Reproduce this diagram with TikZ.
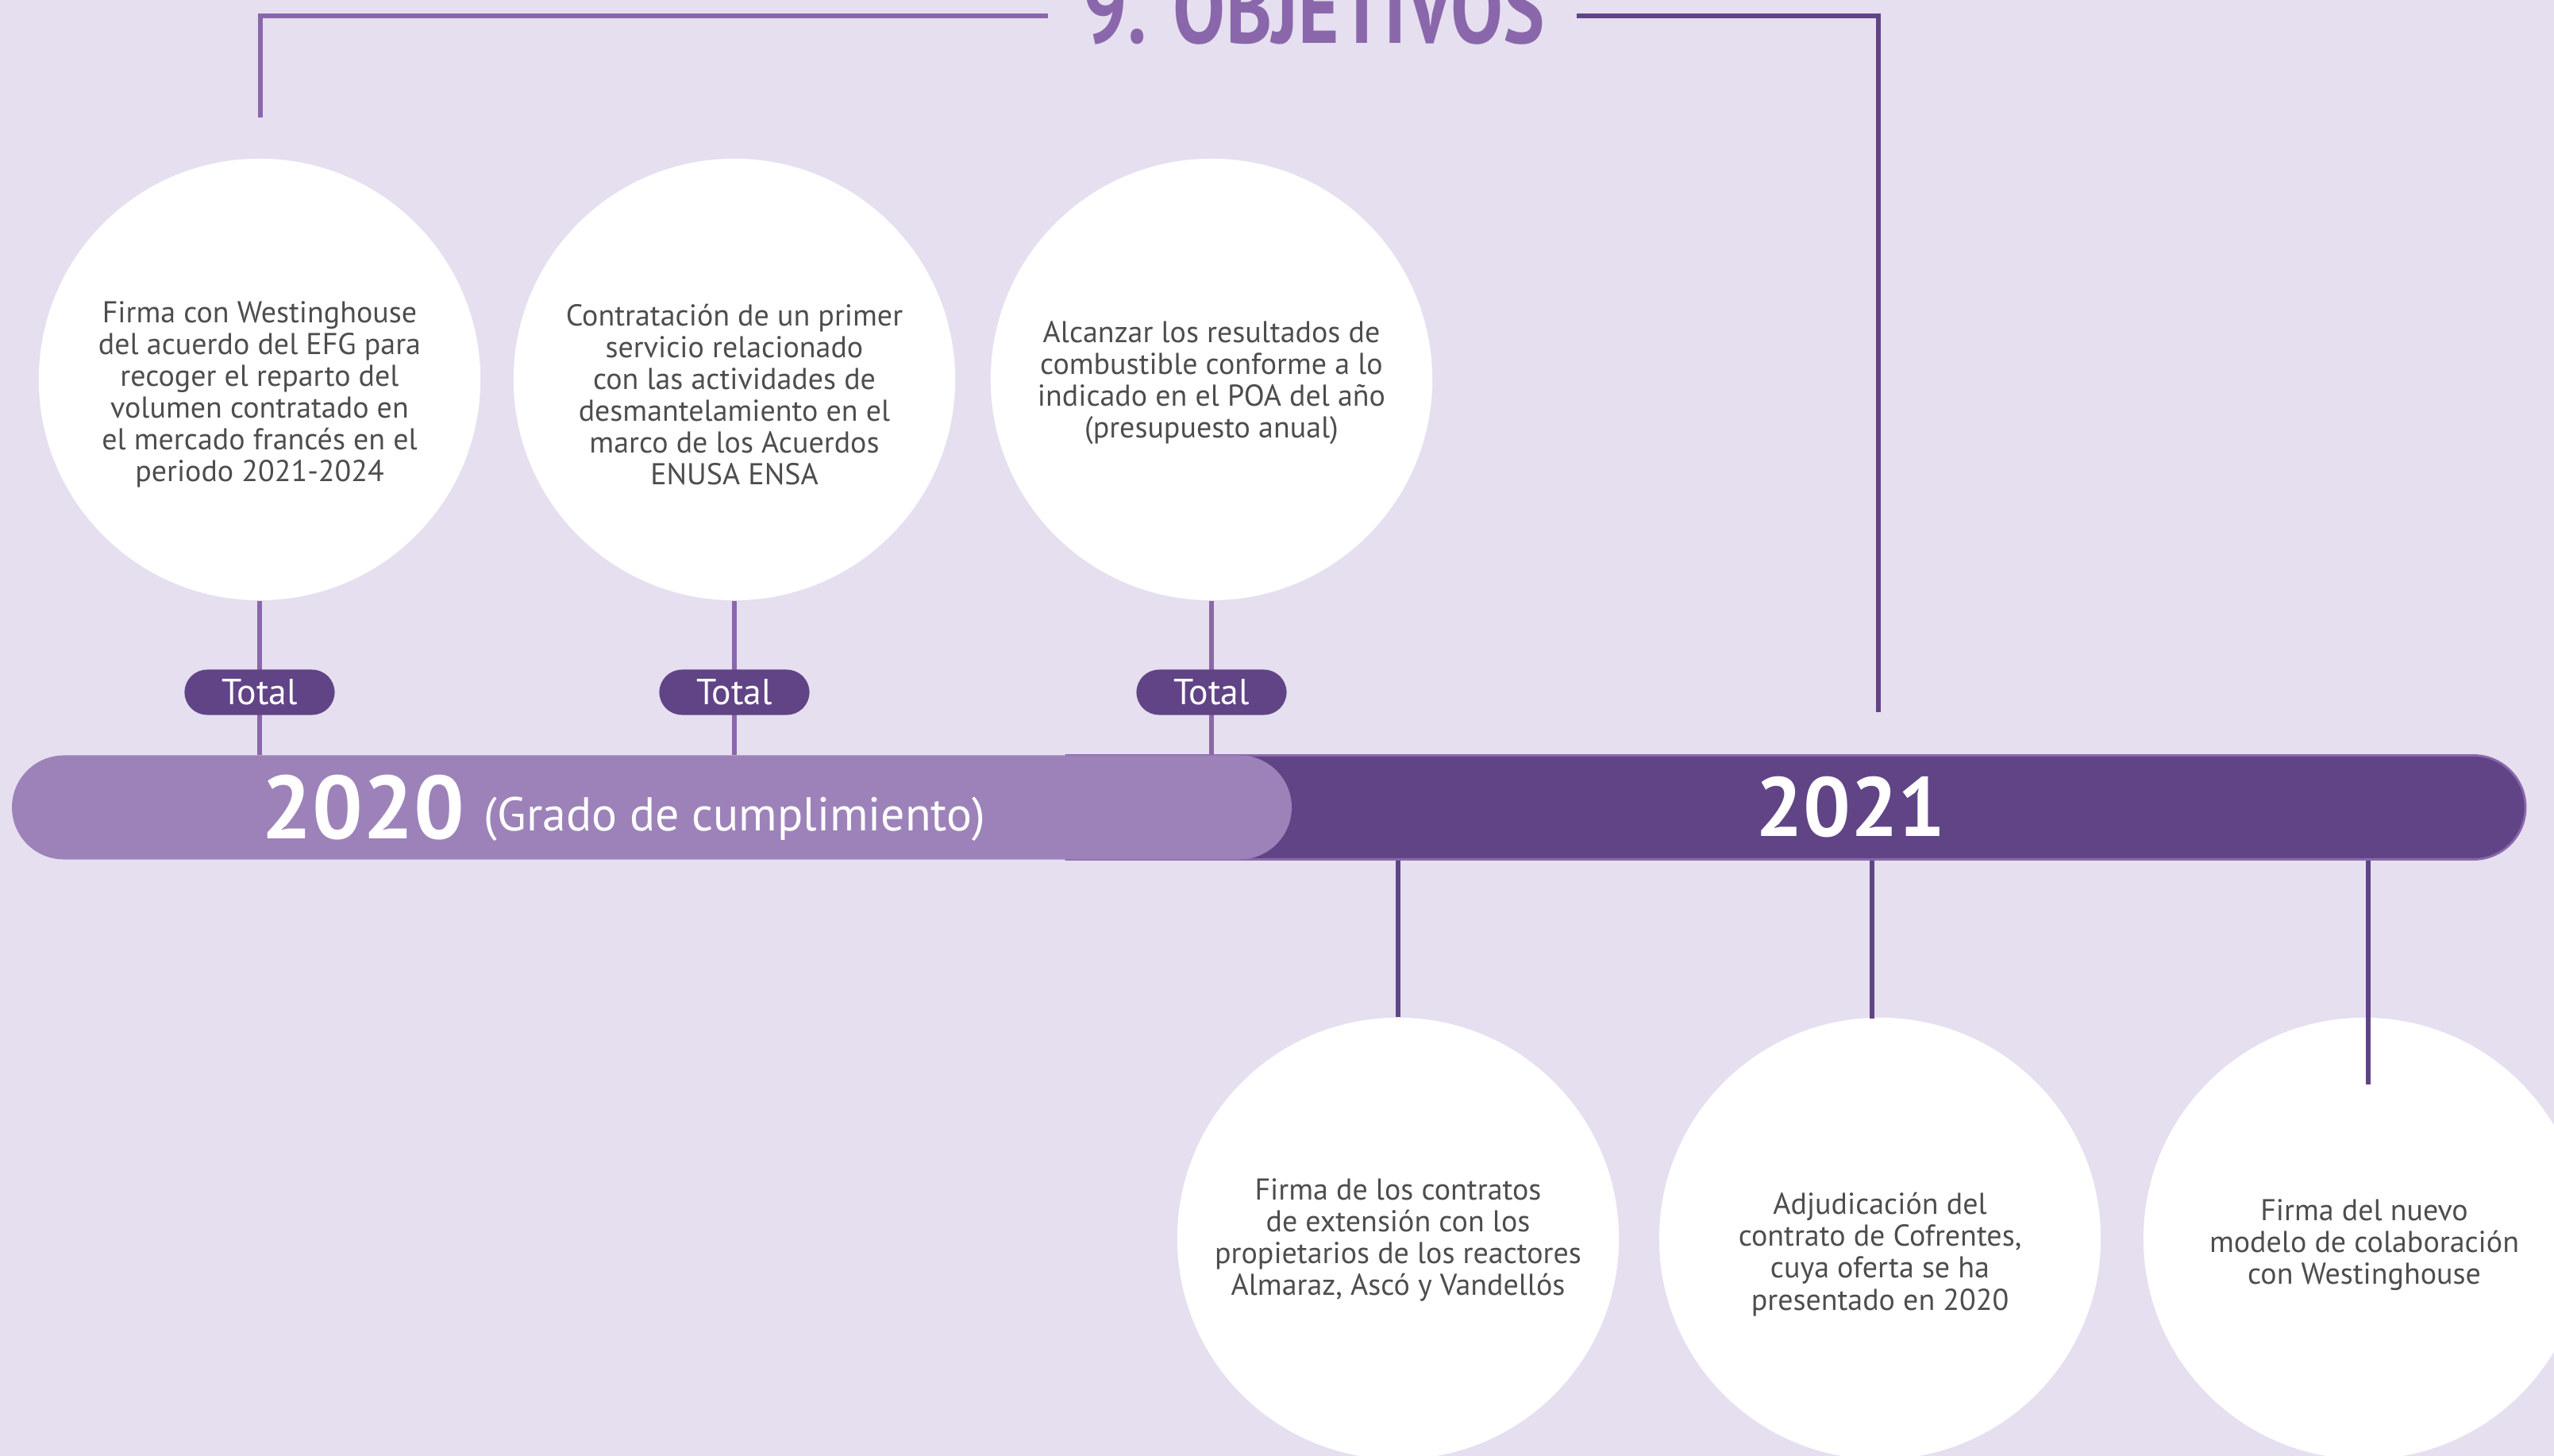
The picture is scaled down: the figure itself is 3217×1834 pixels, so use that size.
\documentclass[tikz,border=0pt]{standalone}
\usepackage{fontspec}
\setmainfont{PT Sans}
\usetikzlibrary{positioning,shapes.misc}
\definecolor{bgcol}{HTML}{E5DFF0}
\definecolor{lilac}{HTML}{8A67AB}
\definecolor{barlt}{HTML}{9D82BA}
\definecolor{darkp}{HTML}{614486}
\definecolor{txtcol}{HTML}{4D4D4D}

\begin{document}
\begin{tikzpicture}[x=0.01cm,y=-0.01cm,
  goal/.style={circle,fill=white,minimum size=5.56cm,inner sep=0pt},
  goaltxt/.style={align=center,text=txtcol,inner sep=0pt,font=\fontsize{10.8}{11.4}\selectfont},
  stem/.style={line width=0.06cm},
  pill/.style={rounded rectangle,fill=darkp,text=white,minimum width=1.89cm,minimum height=0.57cm,inner sep=0pt,font=\fontsize{13}{13}\selectfont},
  bar/.style={rounded rectangle,minimum height=1.31cm,inner sep=0pt},
  year/.style={text=white,font=\fontsize{32}{32}\selectfont\bfseries,inner sep=0pt}]
\useasboundingbox (0,0) rectangle (3217,1834);
\fill[bgcol] (0,0) rectangle (3217,1834);

\node[bar,rounded rectangle left arc=none,fill=darkp,draw=lilac,line width=0.8pt,minimum width=18.37cm] (bar21) at (2262,1017) {};
\node[bar,fill=barlt,minimum width=16.11cm] (bar20) at (821,1017) {};
\node[year,anchor=base west] (y20) at (329,1057) {2020};
\node[text=white,font=\fontsize{17}{17}\selectfont,inner sep=0pt,anchor=base west] (grado) at (609,1047) {(Grado de cumplimiento)};
\node[year,font=\fontsize{30}{30}\selectfont\bfseries,anchor=base] (y21) at (2331,1054) {2021};

\node[goal] (g1) at (327,478) {};
\node[goal] (g2) at (925,478) {};
\node[goal] (g3) at (1526,478) {};
\node[goal] (d1) at (1761,1560) {};
\node[goal] (d2) at (2368,1560) {};
\node[goal] (d3) at (2978,1560) {};
\node[goaltxt,yshift=-0.19cm] (g1t) at (g1) {Firma con Westinghouse\\del acuerdo del EFG para\\recoger el reparto del\\volumen contratado en\\el mercado francés en el\\periodo 2021-2024};
\node[goaltxt,yshift=-0.19cm] (g2t) at (g2) {Contratación de un primer\\servicio relacionado\\con las actividades de\\desmantelamiento en el\\marco de los Acuerdos\\ENUSA ENSA};
\node[goaltxt,yshift=-0.04cm] (g3t) at (g3) {Alcanzar los resultados de\\combustible conforme a lo\\indicado en el POA del año\\(presupuesto anual)};
\node[goaltxt,yshift=-0.02cm] (d1t) at (d1) {Firma de los contratos\\de extensión con los\\propietarios de los reactores\\Almaraz, Ascó y Vandellós};
\node[goaltxt,yshift=-0.2cm] (d2t) at (d2) {Adjudicación del\\contrato de Cofrentes,\\cuya oferta se ha\\presentado en 2020};
\node[goaltxt,yshift=-0.08cm] (d3t) at (d3) {Firma del nuevo\\modelo de colaboración\\con Westinghouse};

\draw[stem,lilac] (g1) -- (g1 |- bar20.north);
\draw[stem,lilac] (g2) -- (g2 |- bar20.north);
\draw[stem,lilac] (g3) -- (g3 |- bar21.north);
\coordinate (e2) at (2358,1283);
\coordinate (e3) at (2983,1366);
\draw[stem,darkp] (bar21.south -| d1) -- (d1);
\draw[stem,darkp] (bar21.south -| e2) -- (e2);
\draw[stem,darkp] (bar21.south -| e3) -- (e3);

\node[pill] (t1) at (g1 |- 0,872) {Total};
\node[pill] (t2) at (g2 |- 0,872) {Total};
\node[pill] (t3) at (g3 |- 0,872) {Total};

\coordinate (bl1) at (328,148);
\coordinate (bl2) at (1320,20);
\coordinate (br1) at (1986,20);
\coordinate (br2) at (2366,897);
\draw[stem,lilac,line width=0.065cm] (bl1) |- (bl2);
\draw[stem,darkp,line width=0.065cm] (br1) -| (br2);
\node[text=lilac,font=\fontsize{36}{36}\selectfont\bfseries,inner sep=0pt,anchor=base,xscale=0.78] (ttl) at (1655,55) {9. OBJETIVOS};
\end{tikzpicture}
\end{document}
